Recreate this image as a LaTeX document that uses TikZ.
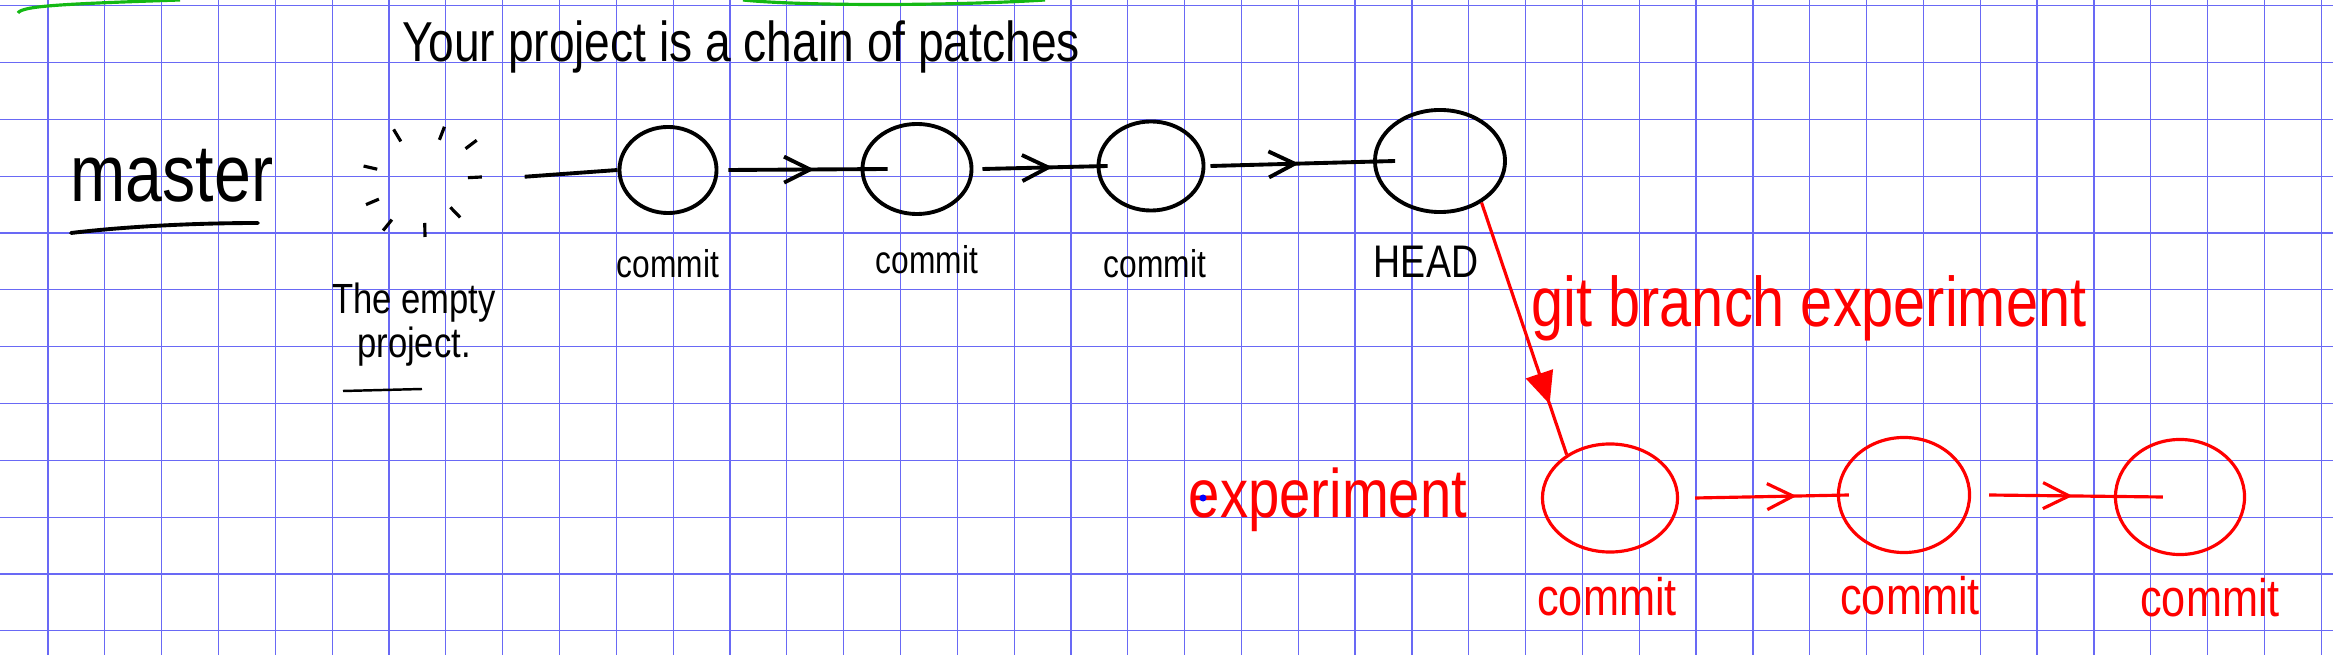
\documentclass[tikz,border=0pt]{standalone}
\usepackage{fontspec}
\setmainfont{Liberation Sans}[FakeStretch=0.82]
\usepackage{tikz}
\usetikzlibrary{arrows.meta,positioning,shapes.geometric,decorations.markings}
\definecolor{gridblue}{RGB}{105,105,245}
\definecolor{markgreen}{RGB}{20,185,20}

\begin{document}
\begin{tikzpicture}[
  x=0.01cm, y=-0.01cm,
  gridline/.style={gridblue, line width=0.35pt},
  commit/.style={draw, ellipse, line width=1.1pt, inner sep=0pt},
  newcommit/.style={commit, draw=red, line width=0.9pt},
  note/.style={inner sep=0pt, font=\fontsize{11}{13}\selectfont},
  newnote/.style={inner sep=0pt, red, font=\fontsize{15}{18}\selectfont},
  link/.style={line width=1.1pt},
  arrow/.style={line width=1.1pt, postaction={decorate}, decoration={markings, mark=at position #1 with {\arrow{Straight Barb[length=2.6mm,width=2.6mm]}}}},
  arrow/.default=0.55,
  newarrow/.style={arrow=#1, red, line width=0.9pt},
  newarrow/.default=0.55,
  branch/.style={red, line width=0.9pt, postaction={decorate}, decoration={markings, mark=at position 0.8 with {\arrow{Triangle[length=3.2mm,width=2.8mm]}}}}
]
  \fill[white] (0,0) rectangle (2333,655);
  \useasboundingbox (0,0) rectangle (2333,655);

  % squared paper
  \foreach \i in {0,...,40}
    \draw[gridline] ({48+56.83*\i},0) -- ({48+56.83*\i},655);
  \foreach \j in {0,...,11}
    \draw[gridline] (0,{5.7+56.83*\j}) -- (2333,{5.7+56.83*\j});

  % green strokes cut off at the top
  \draw[markgreen, line width=0.9pt] (18,13) .. controls (22,6) and (60,4) .. (180,0);
  \draw[markgreen, line width=0.9pt] (743,0) .. controls (800,6) and (950,6) .. (1045,0);

  \node[anchor=base, inner sep=0pt, font=\fontsize{16}{19}\selectfont] (title) at (741,62) {Your project is a chain of patches};

  % master branch
  \node[anchor=base, inner sep=0pt, font=\fontsize{23}{26}\selectfont] (master) at (172,202) {master};
  \draw[line width=1.1pt, line cap=round] (71,233) .. controls (130,226) and (200,223) .. (258,223);

  \node[circle, minimum size=1.1cm] (empty) at (424,180) {};
  \foreach \a/\r in {121/52, 69/50, 37/59, 3/51, 167/55, 203/56, 231/58, 271/50, 314/45}
    \draw[line width=0.9pt] ([shift={(-\a:{\r-7})}]empty.center) -- ([shift={(-\a:{\r+7})}]empty.center);
  \node[anchor=north, align=center, inner sep=0pt, font=\fontsize{12}{12.5}\selectfont] (emptytext) at (414,282) {The empty\\project.};
  \draw[line width=0.7pt] (343,391) -- (422,389);

  \node[commit, minimum width=0.97cm, minimum height=0.86cm] (c1) at (668,170) {};
  \node[commit, minimum width=1.09cm, minimum height=0.90cm] (c2) at (917,169) {};
  \node[commit, minimum width=1.05cm, minimum height=0.89cm] (c3) at (1151,166) {};
  \node[commit, minimum width=1.30cm, minimum height=1.02cm] (head) at (1440,161) {};

  \node[note, below=0.34cm of c1] (l1) {commit};
  \node[note, below=0.29cm of c2, xshift=0.1cm] (l2) {commit};
  \node[note, below=0.36cm of c3, xshift=0.04cm] (l3) {commit};
  \node[note, font=\fontsize{13}{15}\selectfont, below=0.31cm of head, xshift=-0.14cm] (lhead) {HEAD};

  \draw[link, shorten <=0.45cm] (empty.east) -- (c1.west);
  \draw[arrow=0.54] ([xshift=0.1cm]c1.east) -- ([xshift=0.27cm]c2.west);
  \draw[arrow=0.56] ([xshift=0.09cm]c2.east) -- ([xshift=0.11cm]c3.west);
  \draw[arrow=0.48] ([xshift=0.05cm]c3.east) -- ([xshift=0.22cm]head.west);

  % experiment branch
  \node[anchor=base, inner sep=0pt, red, font=\fontsize{20}{24}\selectfont] (cmd) at (1809,327) {git branch experiment};
  \node[anchor=base, inner sep=0pt, red, font=\fontsize{19.5}{23}\selectfont] (branchname) at (1328,518) {experiment};
  \fill[blue] (1203,498) circle (0.035cm);

  \node[newcommit, minimum width=1.35cm, minimum height=1.08cm] (e1) at (1610,498) {};
  \node[newcommit, minimum width=1.31cm, minimum height=1.15cm] (e2) at (1904,495) {};
  \node[newcommit, minimum width=1.29cm, minimum height=1.15cm] (e3) at (2180,497) {};

  \node[newnote, below=0.23cm of e1, xshift=-0.03cm] (le1) {commit};
  \node[newnote, below=0.21cm of e2, xshift=0.06cm] (le2) {commit};
  \node[newnote, below=0.21cm of e3, xshift=0.3cm] (le3) {commit};

  \draw[branch] (head.-45) -- (e1.135);
  \draw[newarrow=0.66] ([xshift=0.16cm]e1.east) -- ([xshift=0.12cm]e2.west);
  \draw[newarrow=0.48] ([xshift=0.18cm]e2.east) -- ([xshift=0.49cm]e3.west);
\end{tikzpicture}
\end{document}
